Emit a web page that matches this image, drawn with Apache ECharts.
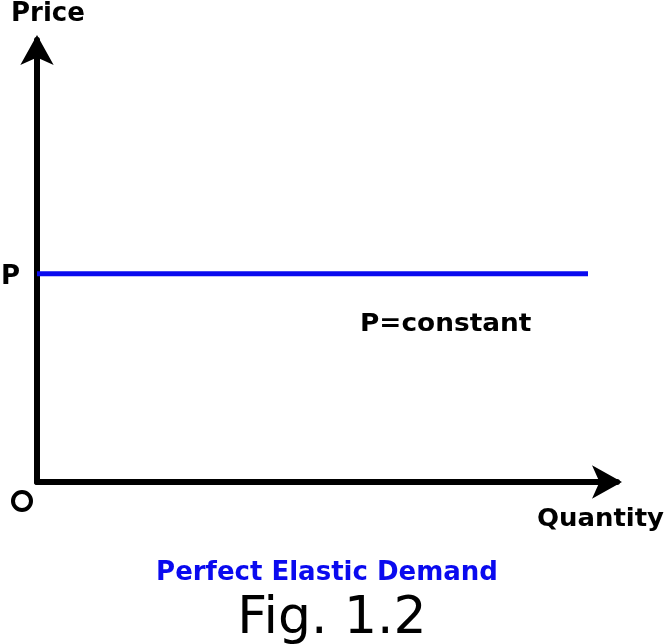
<!DOCTYPE html>
<html><head><meta charset="utf-8">
<script src="https://cdn.jsdelivr.net/npm/echarts@6/dist/echarts.min.js"></script>
<style>html,body{margin:0;padding:0;background:#fff}#c{width:665px;height:644px}</style>
</head><body><div id="c"></div>
<script>
const demandX = [0, 95.0];
const demandP = [47.1, 47.1];
const axisNames = ['Quantity', 'Price'];
const priceLabel = 'P';
const curveLabel = 'P=constant';
const titleText = 'Perfect Elastic Demand';
const figText = 'Fig. 1.2';

const F = '"DejaVu Sans", sans-serif';
const chart = echarts.init(document.getElementById('c'));
function txt(t, x, y, size, opts) {
  opts = opts || {};
  return {
    type: 'text', x: x, y: y, scaleX: opts.sx || 1, scaleY: 1,
    style: {text: t, font: (opts.w || 'bold') + ' ' + size + 'px ' + F, fill: opts.c || '#000', align: opts.a || 'left', verticalAlign: 'top'}
  };
}
chart.setOption({
  backgroundColor: '#fff',
  animation: false,
  grid: {left: 37, right: 48, top: 40, bottom: 162},
  xAxis: {
    type: 'value', min: 0, max: 100,
    axisLine: {show: true, symbol: ['none', 'arrow'], symbolSize: [25, 30], symbolOffset: [0, 5], lineStyle: {color: '#000', width: 6}},
    axisTick: {show: false}, axisLabel: {show: false}, splitLine: {show: false}
  },
  yAxis: {
    type: 'value', min: 0, max: 100,
    axisLine: {show: true, symbol: ['none', 'arrow'], symbolSize: [25, 30], symbolOffset: [0, 5], lineStyle: {color: '#000', width: 6}},
    axisTick: {show: false}, axisLabel: {show: false}, splitLine: {show: false}
  },
  series: [{
    type: 'line',
    data: demandX.map((x, i) => [x, demandP[i]]),
    symbol: 'none',
    lineStyle: {color: '#0a0aef', width: 5},
    label: {show: false}
  }],
  graphic: [
    txt(axisNames[1], 11, 1, 26),
    txt(axisNames[0], 537, 508, 24, {sx: 1.08}),
    txt(priceLabel, 1, 264, 26),
    txt(curveLabel, 360, 312, 25, {sx: 1.055}),
    txt(titleText, 327, 560, 26, {a: 'center', c: '#0a0aef'}),
    txt(figText, 332, 593, 52, {a: 'center', w: 'normal'}),
    {type: 'circle', x: 22, y: 501, shape: {cx: 0, cy: 0, r: 9}, style: {fill: 'none', stroke: '#000', lineWidth: 4}}
  ]
});
</script></body></html>
